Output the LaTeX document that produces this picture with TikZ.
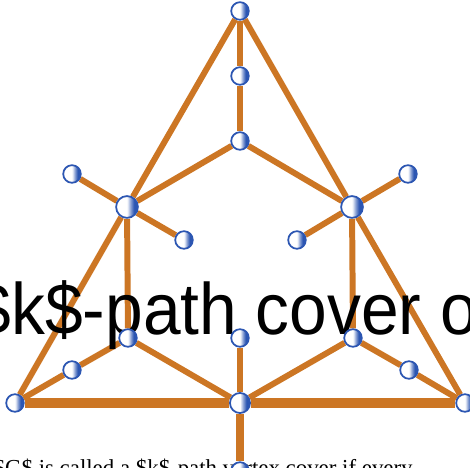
\documentclass[tikz,border=0pt]{standalone}
\usepackage{xcolor}
\usepackage{fontspec}
\setmainfont{Liberation Serif}
\newfontfamily\titlefont{Liberation Sans}
\usepackage{tikz}

\definecolor{edgeorange}{RGB}{204,118,36}
\definecolor{vertexblue}{RGB}{44,86,178}
\pgfdeclarehorizontalshading{halfball}{100bp}{color(0bp)=(white); color(50bp)=(white);
    color(58bp)=(vertexblue!55); color(66bp)=(vertexblue); color(100bp)=(vertexblue)}

\pgfdeclarelayer{edges}
\pgfdeclarelayer{labels}
\pgfsetlayers{edges,labels,main}

\begin{document}
\begin{tikzpicture}[x=0.01cm, y=-0.01cm,
    vertex/.style={circle, draw=vertexblue, line width=0.5pt, inner sep=0pt, minimum size=5pt,
        shading=halfball},
    hub/.style={vertex, minimum size=6.2pt},
    edge/.style={edgeorange, line width=1.7pt},
    base/.style={edgeorange, line width=2.8pt}]
    \useasboundingbox (0,0) rectangle (470,468);

    % Vertices
    \node[vertex] (apex) at (240,11) {};
    \node[vertex] (upper) at (240,76) {};
    \node[vertex] (centre) at (240,141) {};
    \node[hub] (left-hub) at (127,207) {};
    \node[hub] (right-hub) at (352,207) {};
    \node[vertex] (left-leaf-a) at (72,174) {};
    \node[vertex] (left-leaf-b) at (184,240) {};
    \node[vertex] (right-leaf-a) at (408,174) {};
    \node[vertex] (right-leaf-b) at (297,240) {};
    \node[vertex] (left-low) at (128,338) {};
    \node[vertex] (right-low) at (353,338) {};
    \node[vertex] (mid-low) at (240,338) {};
    \node[vertex] (left-side) at (72,370) {};
    \node[vertex] (right-side) at (409,370) {};
    \node[vertex] (left-corner) at (15,403) {};
    \node[hub, minimum size=5.7pt] (bottom) at (240,403) {};
    \node[vertex] (right-corner) at (465,403) {};
    \node[vertex] (foot) at (240,471) {};

    % Edges
    \begin{pgfonlayer}{edges}
        \draw[edge] (apex) -- (left-hub) -- (left-corner);
        \draw[edge] (apex) -- (right-hub) -- (right-corner);
        \draw[edge] (apex) -- (upper) -- (centre);
        \draw[edge] (centre) -- (left-hub);
        \draw[edge] (centre) -- (right-hub);
        \draw[edge] (left-leaf-a) -- (left-hub) -- (left-leaf-b);
        \draw[edge] (right-leaf-a) -- (right-hub) -- (right-leaf-b);
        \draw[edge] (left-hub) -- (left-low);
        \draw[edge] (right-hub) -- (right-low);
        \draw[edge] (left-corner) -- (left-side) -- (left-low) -- (bottom);
        \draw[edge] (right-corner) -- (right-side) -- (right-low) -- (bottom);
        \draw[edge] (mid-low) -- (bottom);
        \draw[edge, line width=2.3pt] (bottom) -- (foot);
        \draw[base] (left-corner) -- (bottom) -- (right-corner);
    \end{pgfonlayer}

    % Texts
    \begin{pgfonlayer}{labels}
        \node[anchor=base west, inner sep=0pt, font=\titlefont\fontsize{20.7}{24}\selectfont] (title) at (-27,335) {\scalebox{0.93}[1]{\$k\$-path cover o}};
        \node[anchor=base west, inner sep=0pt, font=\fontsize{6.5}{8}\selectfont] (caption) at (-7,476) {\$G\$ is called a \$k\$-path vertex cover if every};
    \end{pgfonlayer}
\end{tikzpicture}
\end{document}
